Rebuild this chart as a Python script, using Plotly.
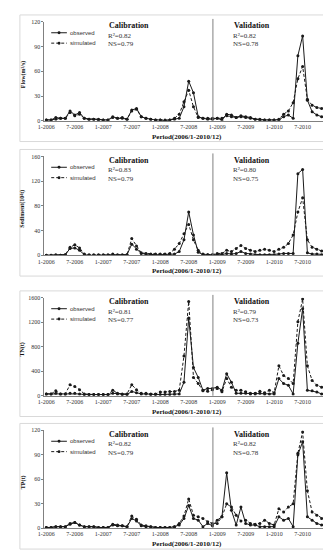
import plotly.graph_objects as go

W, H = 331, 550

# ---------------- data ----------------
tick_idx = [0, 6, 12, 18, 24, 30, 36, 42, 48, 54]
tick_labels = ['1-2006', '7-2006', '1-2007', '7-2007', '1-2008',
               '7-2008', '1-2009', '7-2009', '1-2010', '7-2010']
months = list(range(60))

flow_obs = [1, 1, 4, 3, 3, 12, 7, 10, 3, 2, 2, 2,
            1, 1, 5, 3, 3, 2, 13, 15, 5, 3, 2, 1,
            1, 0, 1, 2, 3, 17, 48, 34, 5, 3, 2, 2,
            3, 1, 8, 7, 4, 6, 5, 4, 2, 1, 1, 1,
            1, 1, 5, 7, 3, 79, 103, 25, 11, 7, 5, 3]
flow_sim = [1, 1, 2, 3, 3, 10, 6, 8, 3, 2, 2, 1,
            1, 1, 4, 3, 4, 2, 12, 14, 5, 3, 2, 1,
            1, 1, 1, 3, 8, 23, 37, 17, 4, 3, 3, 3,
            3, 3, 6, 5, 4, 5, 4, 3, 2, 2, 1, 1,
            1, 2, 8, 12, 22, 51, 66, 26, 19, 16, 15, 14]

sed_obs = [0, 0, 0, 0, 1, 11, 12, 8, 1, 0, 0, 0,
           0, 0, 1, 0, 0, 1, 18, 10, 3, 2, 1, 1,
           1, 1, 1, 2, 6, 25, 70, 33, 5, 1, 1, 1,
           1, 1, 3, 2, 3, 6, 3, 2, 1, 1, 1, 1,
           1, 2, 3, 3, 3, 132, 139, 4, 2, 2, 1, 1]
sed_sim = [0, 0, 1, 0, 1, 13, 17, 12, 2, 1, 1, 1,
           1, 1, 2, 1, 1, 1, 27, 15, 4, 3, 2, 2,
           2, 2, 3, 10, 19, 35, 50, 25, 8, 2, 1, 1,
           3, 3, 8, 6, 11, 16, 11, 8, 6, 8, 10, 8,
           6, 10, 13, 19, 33, 70, 93, 25, 13, 10, 7, 6]

tn_obs = [30, 30, 40, 30, 30, 40, 40, 30, 20, 20, 20, 20,
          20, 20, 40, 30, 20, 20, 70, 50, 30, 30, 20, 20,
          20, 20, 20, 25, 30, 220, 1270, 460, 300, 90, 120, 120,
          140, 90, 360, 220, 40, 40, 40, 30, 30, 40, 30, 30,
          30, 280, 200, 170, 30, 860, 1420, 90, 80, 60, 30, 10]
tn_sim = [30, 30, 80, 30, 30, 180, 150, 100, 30, 20, 20, 20,
          20, 20, 90, 40, 30, 30, 180, 100, 40, 40, 30, 30,
          60, 60, 70, 70, 90, 650, 1540, 300, 200, 80, 75, 100,
          120, 65, 280, 140, 90, 90, 64, 40, 40, 75, 48, 90,
          48, 490, 330, 280, 200, 1210, 1580, 490, 250, 170, 140, 90]

tp_obs = [1, 1, 2, 2, 2, 5, 7, 4, 2, 2, 2, 1,
          1, 1, 4, 3, 3, 2, 12, 9, 3, 2, 2, 1,
          1, 1, 1, 2, 4, 12, 28, 12, 10, 2, 6, 3,
          10, 14, 68, 22, 4, 26, 6, 4, 4, 2, 2, 2,
          2, 14, 10, 12, 2, 90, 106, 14, 10, 6, 4, 3]
tp_sim = [1, 1, 2, 2, 2, 6, 7, 4, 2, 2, 2, 1,
          1, 1, 5, 4, 3, 2, 15, 11, 4, 3, 2, 1,
          1, 1, 1, 2, 6, 15, 36, 16, 14, 12, 8, 6,
          6, 14, 30, 26, 16, 9, 10, 6, 5, 6, 10, 6,
          4, 24, 20, 26, 30, 92, 118, 46, 20, 16, 12, 9]

cal_stats = [('0.82', '0.79'), ('0.83', '0.79'), ('0.81', '0.77'), ('0.82', '0.79')]
val_stats = [('0.82', '0.78'), ('0.80', '0.75'), ('0.79', '0.73'), ('0.82', '0.78')]
y_titles = ['Flow(m³/s)', 'Sediment(10⁴t)', 'TN(t)', 'TP(t)']
y_max = [120, 160, 1600, 120]
y_step = [30, 40, 400, 30]
split_x = 35.1  # boundary calibration / validation

# ---------------- layout helpers ----------------
def PX(px):
    return px / W

def PY(py):
    return 1 - py / H

panel_px = [(11, 111), (147, 247), (290, 389), (424, 523)]  # plot top/bottom in pixels
plot_left, plot_right = 30, 321

serif = 'Liberation Serif'
sans = 'Liberation Sans'

series = [(flow_obs, flow_sim), (sed_obs, sed_sim), (tn_obs, tn_sim), (tp_obs, tp_sim)]

fig = go.Figure()
shapes = []
annots = []
layout = {}

for k in range(4):
    top, bot = panel_px[k]
    sfx = '' if k == 0 else str(k + 1)
    xa, ya = 'x' + sfx, 'y' + sfx
    obs, sim = series[k]
    fig.add_trace(go.Scatter(x=months, y=obs, xaxis=xa, yaxis=ya, mode='lines+markers',
                             line=dict(color='#1a1a1a', width=1),
                             marker=dict(size=3, color='#1a1a1a', symbol='circle'),
                             showlegend=False, name='observed'))
    fig.add_trace(go.Scatter(x=months, y=sim, xaxis=xa, yaxis=ya, mode='lines+markers',
                             line=dict(color='#1a1a1a', width=1, dash='3px,2px'),
                             marker=dict(size=3, color='#1a1a1a', symbol='circle'),
                             showlegend=False, name='simulated'))
    layout['xaxis' + sfx] = dict(domain=[PX(plot_left), PX(plot_right)], anchor=ya,
                                 range=[-0.41, 59.6], tickmode='array', tickvals=tick_idx,
                                 ticktext=tick_labels, showgrid=False, zeroline=False,
                                 showline=True, linecolor='#808080', linewidth=1,
                                 ticks='', tickfont=dict(family=serif, size=6, color='#333'))
    layout['yaxis' + sfx] = dict(domain=[PY(bot), PY(top)], anchor=xa,
                                 range=[0, y_max[k]], tickmode='linear', tick0=0, dtick=y_step[k],
                                 showgrid=False, zeroline=False, showline=True,
                                 linecolor='#808080', linewidth=1, ticks='outside', ticklen=2,
                                 tickcolor='#808080',
                                 tickfont=dict(family=serif, size=6, color='#333'))
    # panel border
    shapes.append(dict(type='rect', xref='paper', yref='paper', x0=PX(5), x1=PX(326),
                       y0=PY(bot + 21), y1=PY(top - 7), line=dict(color='#d9d9d9', width=1),
                       layer='below'))
    # calibration / validation split line
    shapes.append(dict(type='line', xref=xa, yref=ya + ' domain', x0=split_x, x1=split_x,
                       y0=0, y1=1.03, line=dict(color='#808080', width=1)))
    # legend (manual)
    for j, (lbl, dash) in enumerate([('observed', 'solid'), ('simulated', '3px,2px')]):
        yy = top + 11 + j * 10.5
        shapes.append(dict(type='line', xref='paper', yref='paper', x0=PX(37), x1=PX(53),
                           y0=PY(yy), y1=PY(yy), line=dict(color='#1a1a1a', width=1, dash=dash)))
        shapes.append(dict(type='circle', xref='paper', yref='paper', x0=PX(43.5), x1=PX(46.5),
                           y0=PY(yy + 1.5), y1=PY(yy - 1.5), fillcolor='#1a1a1a',
                           line=dict(width=0)))
        annots.append(dict(text=lbl, xref='paper', yref='paper', x=PX(54), y=PY(yy),
                           xanchor='left', yanchor='middle', showarrow=False,
                           font=dict(family=sans, size=6, color='#333')))
    # stats text
    for (x0, title, st) in [(94, 'Calibration', cal_stats[k]), (222, 'Validation', val_stats[k])]:
        annots.append(dict(text=title, xref='paper', yref='paper', x=PX(x0),
                           y=PY(top + 4), xanchor='left', yanchor='middle', showarrow=False,
                           font=dict(family=serif, size=8, color='#111', weight='bold')))
        annots.append(dict(text='R²=' + st[0], xref='paper', yref='paper', x=PX(x0 - 1),
                           y=PY(top + 14), xanchor='left', yanchor='middle', showarrow=False,
                           font=dict(family=serif, size=7, color='#333')))
        annots.append(dict(text='NS=' + st[1], xref='paper', yref='paper', x=PX(x0 - 1),
                           y=PY(top + 22.5), xanchor='left', yanchor='middle', showarrow=False,
                           font=dict(family=serif, size=7, color='#333')))
    # axis titles
    annots.append(dict(text=y_titles[k], xref='paper', yref='paper', x=PX(8),
                       y=PY((top + bot) / 2 + 3), textangle=-90, xanchor='center', yanchor='middle',
                       showarrow=False, font=dict(family=serif, size=6, color='#111', weight='bold')))
    annots.append(dict(text='Period(2006/1-2010/12)', xref='paper', yref='paper',
                       x=PX((plot_left + plot_right) / 2), y=PY(bot + 16), xanchor='center',
                       yanchor='middle', showarrow=False,
                       font=dict(family=serif, size=7, color='#111', weight='bold')))

fig.update_layout(width=W, height=H, margin=dict(l=0, r=0, t=0, b=0),
                  paper_bgcolor='white', plot_bgcolor='white', showlegend=False,
                  shapes=shapes, annotations=annots, **layout)

fig.write_html('out.html')
